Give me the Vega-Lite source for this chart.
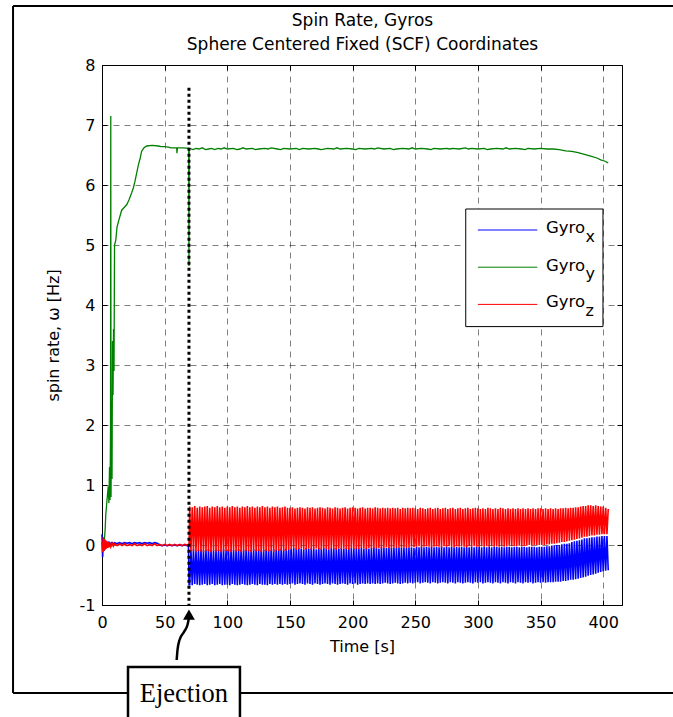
{
"$schema":"https://vega.github.io/schema/vega-lite/v6.json",
"width":520,"height":540,
"autosize":{"type":"none"},
"padding":{"left":102,"top":65,"right":51,"bottom":112},
"background":"white",
"datasets":{
"xz":[
{"t":0,"x":0.18,"z":0.05},{"t":0.5,"x":-0.2,"z":-0.12},{"t":1,"x":0.12,"z":0.13},{"t":1.5,"x":-0.1,"z":-0.1},{"t":2,"x":0.07,"z":0.1},{"t":2.5,"x":-0.05,"z":-0.08},{"t":3,"x":0.05,"z":0.08},{"t":3.5,"x":-0.02,"z":-0.06},{"t":4,"x":0.05,"z":0.06},{"t":4.5,"x":0.01,"z":-0.05},{"t":5,"x":0.04,"z":0.05},{"t":5.5,"x":0.02,"z":-0.04},{"t":6,"x":0.04,"z":0.04},{"t":7,"x":0.02,"z":-0.03},{"t":8,"x":0.04,"z":0.03},{"t":9,"x":0.02,"z":-0.02},{"t":10,"x":0.04,"z":0.02},{"t":12,"x":0.02,"z":-0.01},{"t":14,"x":0.04,"z":0.02},{"t":16,"x":0.02,"z":-0.01},{"t":18,"x":0.04,"z":0.02},{"t":20,"x":0.03,"z":-0.01},{"t":22,"x":0.04,"z":0.01},{"t":24,"x":0.02,"z":-0.01},{"t":26,"x":0.04,"z":0.02},{"t":28,"x":0.03,"z":-0.01},{"t":30,"x":0.04,"z":0.01},{"t":32,"x":0.02,"z":-0.01},{"t":34,"x":0.04,"z":0.02},{"t":36,"x":0.03,"z":-0.01},{"t":38,"x":0.04,"z":0.01},{"t":40,"x":0.02,"z":-0.01},{"t":42,"x":0.04,"z":0.02},{"t":44,"x":0.03,"z":-0.01},{"t":46,"x":0.0,"z":0.01},{"t":48,"x":-0.01,"z":-0.01},{"t":50,"x":0.0,"z":0.01},{"t":52,"x":-0.01,"z":-0.01},{"t":54,"x":0.0,"z":0.01},{"t":56,"x":-0.01,"z":-0.01},{"t":58,"x":0.0,"z":0.01},{"t":60,"x":-0.01,"z":-0.01},{"t":62,"x":0.0,"z":0.01},{"t":64,"x":-0.01,"z":-0.01},{"t":66,"x":0.0,"z":0.01},{"t":68,"x":-0.01,"z":0.0},{"t":69,"x":0.0,"z":0.0},{"t":69.5,"x":-0.66,"z":0.0},
{"t":70,"x":-0.66,"z":0.64},{"t":71,"x":-0.08,"z":-0.11},{"t":72,"x":-0.67,"z":0.63},{"t":73,"x":-0.07,"z":-0.10},{"t":74,"x":-0.65,"z":0.65},{"t":75,"x":-0.09,"z":-0.12},{"t":76,"x":-0.66,"z":0.62},{"t":77,"x":-0.08,"z":-0.10},{"t":78,"x":-0.67,"z":0.64},{"t":79,"x":-0.07,"z":-0.11},
{"t":80,"x":-0.66,"z":0.63},{"t":81,"x":-0.09,"z":-0.12},{"t":82,"x":-0.65,"z":0.64},{"t":83,"x":-0.08,"z":-0.10},{"t":84,"x":-0.67,"z":0.65},{"t":85,"x":-0.07,"z":-0.11},{"t":86,"x":-0.66,"z":0.62},{"t":87,"x":-0.08,"z":-0.12},{"t":88,"x":-0.65,"z":0.64},{"t":89,"x":-0.09,"z":-0.10},
{"t":90,"x":-0.67,"z":0.63},{"t":91,"x":-0.07,"z":-0.11},{"t":92,"x":-0.66,"z":0.65},{"t":93,"x":-0.08,"z":-0.10},{"t":94,"x":-0.65,"z":0.63},{"t":95,"x":-0.08,"z":-0.12},{"t":96,"x":-0.67,"z":0.64},{"t":97,"x":-0.07,"z":-0.11},{"t":98,"x":-0.66,"z":0.62},{"t":99,"x":-0.09,"z":-0.10},
{"t":100,"x":-0.66,"z":0.64},{"t":101,"x":-0.08,"z":-0.11},{"t":102,"x":-0.67,"z":0.63},{"t":103,"x":-0.07,"z":-0.12},{"t":104,"x":-0.65,"z":0.65},{"t":105,"x":-0.08,"z":-0.10},{"t":106,"x":-0.66,"z":0.63},{"t":107,"x":-0.09,"z":-0.11},{"t":108,"x":-0.67,"z":0.64},{"t":109,"x":-0.07,"z":-0.10},
{"t":110,"x":-0.66,"z":0.62},{"t":111,"x":-0.08,"z":-0.12},{"t":112,"x":-0.65,"z":0.64},{"t":113,"x":-0.08,"z":-0.11},{"t":114,"x":-0.66,"z":0.63},{"t":115,"x":-0.07,"z":-0.10},{"t":116,"x":-0.67,"z":0.65},{"t":117,"x":-0.09,"z":-0.11},{"t":118,"x":-0.66,"z":0.63},{"t":119,"x":-0.08,"z":-0.12},
{"t":120,"x":-0.65,"z":0.64},{"t":121,"x":-0.07,"z":-0.10},{"t":122,"x":-0.66,"z":0.62},{"t":123,"x":-0.08,"z":-0.11},{"t":124,"x":-0.67,"z":0.64},{"t":125,"x":-0.07,"z":-0.10},{"t":126,"x":-0.65,"z":0.63},{"t":127,"x":-0.09,"z":-0.12},{"t":128,"x":-0.66,"z":0.65},{"t":129,"x":-0.08,"z":-0.11},
{"t":130,"x":-0.66,"z":0.63},{"t":131,"x":-0.07,"z":-0.10},{"t":132,"x":-0.67,"z":0.64},{"t":133,"x":-0.08,"z":-0.11},{"t":134,"x":-0.65,"z":0.62},{"t":135,"x":-0.08,"z":-0.10},{"t":136,"x":-0.66,"z":0.64},{"t":137,"x":-0.07,"z":-0.12},{"t":138,"x":-0.65,"z":0.63},{"t":139,"x":-0.08,"z":-0.09},
{"t":140,"x":-0.66,"z":0.64},{"t":141,"x":-0.07,"z":-0.10},{"t":142,"x":-0.65,"z":0.62},{"t":143,"x":-0.06,"z":-0.09},{"t":144,"x":-0.66,"z":0.63},{"t":145,"x":-0.07,"z":-0.10},{"t":146,"x":-0.65,"z":0.64},{"t":147,"x":-0.06,"z":-0.09},{"t":148,"x":-0.66,"z":0.62},{"t":149,"x":-0.07,"z":-0.08},
{"t":150,"x":-0.65,"z":0.62},{"t":151,"x":-0.06,"z":-0.07},{"t":152,"x":-0.64,"z":0.63},{"t":153,"x":-0.05,"z":-0.06},{"t":154,"x":-0.66,"z":0.61},{"t":155,"x":-0.06,"z":-0.08},{"t":156,"x":-0.65,"z":0.62},{"t":157,"x":-0.05,"z":-0.07},{"t":158,"x":-0.64,"z":0.63},{"t":159,"x":-0.06,"z":-0.06},
{"t":160,"x":-0.65,"z":0.62},{"t":161,"x":-0.07,"z":-0.08},{"t":162,"x":-0.66,"z":0.61},{"t":163,"x":-0.05,"z":-0.07},{"t":164,"x":-0.64,"z":0.63},{"t":165,"x":-0.06,"z":-0.06},{"t":166,"x":-0.65,"z":0.62},{"t":167,"x":-0.05,"z":-0.08},{"t":168,"x":-0.66,"z":0.63},{"t":169,"x":-0.06,"z":-0.07},
{"t":170,"x":-0.64,"z":0.61},{"t":171,"x":-0.07,"z":-0.06},{"t":172,"x":-0.65,"z":0.62},{"t":173,"x":-0.05,"z":-0.07},{"t":174,"x":-0.66,"z":0.63},{"t":175,"x":-0.06,"z":-0.08},{"t":176,"x":-0.65,"z":0.62},{"t":177,"x":-0.05,"z":-0.06},{"t":178,"x":-0.64,"z":0.61},{"t":179,"x":-0.06,"z":-0.07},
{"t":180,"x":-0.65,"z":0.63},{"t":181,"x":-0.07,"z":-0.08},{"t":182,"x":-0.66,"z":0.62},{"t":183,"x":-0.05,"z":-0.06},{"t":184,"x":-0.64,"z":0.61},{"t":185,"x":-0.06,"z":-0.07},{"t":186,"x":-0.65,"z":0.63},{"t":187,"x":-0.05,"z":-0.08},{"t":188,"x":-0.66,"z":0.62},{"t":189,"x":-0.06,"z":-0.06},
{"t":190,"x":-0.65,"z":0.61},{"t":191,"x":-0.05,"z":-0.07},{"t":192,"x":-0.64,"z":0.62},{"t":193,"x":-0.06,"z":-0.06},{"t":194,"x":-0.65,"z":0.63},{"t":195,"x":-0.05,"z":-0.07},{"t":196,"x":-0.66,"z":0.61},{"t":197,"x":-0.06,"z":-0.08},{"t":198,"x":-0.64,"z":0.62},{"t":199,"x":-0.05,"z":-0.06},
{"t":200,"x":-0.65,"z":0.63},{"t":201,"x":-0.06,"z":-0.07},{"t":202,"x":-0.64,"z":0.62},{"t":203,"x":-0.05,"z":-0.06},{"t":204,"x":-0.66,"z":0.61},{"t":205,"x":-0.06,"z":-0.07},{"t":206,"x":-0.65,"z":0.62},{"t":207,"x":-0.05,"z":-0.05},{"t":208,"x":-0.64,"z":0.63},{"t":209,"x":-0.06,"z":-0.06},
{"t":210,"x":-0.65,"z":0.61},{"t":211,"x":-0.05,"z":-0.07},{"t":212,"x":-0.64,"z":0.62},{"t":213,"x":-0.06,"z":-0.05},{"t":214,"x":-0.65,"z":0.62},{"t":215,"x":-0.05,"z":-0.06},{"t":216,"x":-0.64,"z":0.61},{"t":217,"x":-0.04,"z":-0.05},{"t":218,"x":-0.65,"z":0.63},{"t":219,"x":-0.05,"z":-0.06},
{"t":220,"x":-0.64,"z":0.62},{"t":221,"x":-0.06,"z":-0.05},{"t":222,"x":-0.65,"z":0.61},{"t":223,"x":-0.04,"z":-0.06},{"t":224,"x":-0.64,"z":0.62},{"t":225,"x":-0.05,"z":-0.05},{"t":226,"x":-0.63,"z":0.61},{"t":227,"x":-0.05,"z":-0.04},{"t":228,"x":-0.64,"z":0.62},{"t":229,"x":-0.04,"z":-0.05},
{"t":230,"x":-0.65,"z":0.61},{"t":231,"x":-0.05,"z":-0.06},{"t":232,"x":-0.64,"z":0.62},{"t":233,"x":-0.04,"z":-0.04},{"t":234,"x":-0.63,"z":0.61},{"t":235,"x":-0.05,"z":-0.05},{"t":236,"x":-0.64,"z":0.62},{"t":237,"x":-0.04,"z":-0.04},{"t":238,"x":-0.65,"z":0.6},{"t":239,"x":-0.05,"z":-0.05},
{"t":240,"x":-0.64,"z":0.62},{"t":241,"x":-0.04,"z":-0.04},{"t":242,"x":-0.63,"z":0.61},{"t":243,"x":-0.05,"z":-0.05},{"t":244,"x":-0.64,"z":0.62},{"t":245,"x":-0.04,"z":-0.04},{"t":246,"x":-0.63,"z":0.61},{"t":247,"x":-0.04,"z":-0.03},{"t":248,"x":-0.64,"z":0.62},{"t":249,"x":-0.05,"z":-0.04},
{"t":250,"x":-0.63,"z":0.61},{"t":251,"x":-0.03,"z":-0.03},{"t":252,"x":-0.62,"z":0.6},{"t":253,"x":-0.04,"z":-0.02},{"t":254,"x":-0.64,"z":0.62},{"t":255,"x":-0.03,"z":-0.04},{"t":256,"x":-0.63,"z":0.61},{"t":257,"x":-0.04,"z":-0.03},{"t":258,"x":-0.62,"z":0.6},{"t":259,"x":-0.03,"z":-0.02},
{"t":260,"x":-0.63,"z":0.61},{"t":261,"x":-0.04,"z":-0.03},{"t":262,"x":-0.64,"z":0.62},{"t":263,"x":-0.03,"z":-0.04},{"t":264,"x":-0.62,"z":0.6},{"t":265,"x":-0.04,"z":-0.03},{"t":266,"x":-0.63,"z":0.61},{"t":267,"x":-0.03,"z":-0.02},{"t":268,"x":-0.64,"z":0.62},{"t":269,"x":-0.04,"z":-0.03},
{"t":270,"x":-0.63,"z":0.6},{"t":271,"x":-0.03,"z":-0.04},{"t":272,"x":-0.62,"z":0.61},{"t":273,"x":-0.04,"z":-0.02},{"t":274,"x":-0.63,"z":0.62},{"t":275,"x":-0.03,"z":-0.03},{"t":276,"x":-0.64,"z":0.6},{"t":277,"x":-0.04,"z":-0.02},{"t":278,"x":-0.62,"z":0.61},{"t":279,"x":-0.03,"z":-0.03},
{"t":280,"x":-0.63,"z":0.62},{"t":281,"x":-0.04,"z":-0.04},{"t":282,"x":-0.64,"z":0.6},{"t":283,"x":-0.03,"z":-0.02},{"t":284,"x":-0.62,"z":0.61},{"t":285,"x":-0.04,"z":-0.03},{"t":286,"x":-0.63,"z":0.62},{"t":287,"x":-0.03,"z":-0.02},{"t":288,"x":-0.64,"z":0.6},{"t":289,"x":-0.04,"z":-0.03},
{"t":290,"x":-0.63,"z":0.61},{"t":291,"x":-0.03,"z":-0.04},{"t":292,"x":-0.62,"z":0.62},{"t":293,"x":-0.04,"z":-0.02},{"t":294,"x":-0.63,"z":0.6},{"t":295,"x":-0.03,"z":-0.03},{"t":296,"x":-0.64,"z":0.61},{"t":297,"x":-0.04,"z":-0.02},{"t":298,"x":-0.62,"z":0.62},{"t":299,"x":-0.03,"z":-0.03},
{"t":300,"x":-0.63,"z":0.61},{"t":301,"x":-0.03,"z":-0.03},{"t":302,"x":-0.62,"z":0.6},{"t":303,"x":-0.04,"z":-0.02},{"t":304,"x":-0.64,"z":0.61},{"t":305,"x":-0.03,"z":-0.03},{"t":306,"x":-0.63,"z":0.6},{"t":307,"x":-0.04,"z":-0.02},{"t":308,"x":-0.62,"z":0.62},{"t":309,"x":-0.03,"z":-0.03},
{"t":310,"x":-0.63,"z":0.61},{"t":311,"x":-0.04,"z":-0.02},{"t":312,"x":-0.64,"z":0.6},{"t":313,"x":-0.03,"z":-0.03},{"t":314,"x":-0.62,"z":0.61},{"t":315,"x":-0.03,"z":-0.02},{"t":316,"x":-0.63,"z":0.6},{"t":317,"x":-0.04,"z":-0.03},{"t":318,"x":-0.64,"z":0.62},{"t":319,"x":-0.03,"z":-0.02},
{"t":320,"x":-0.62,"z":0.61},{"t":321,"x":-0.04,"z":-0.03},{"t":322,"x":-0.63,"z":0.6},{"t":323,"x":-0.03,"z":-0.02},{"t":324,"x":-0.64,"z":0.61},{"t":325,"x":-0.03,"z":-0.01},{"t":326,"x":-0.62,"z":0.6},{"t":327,"x":-0.04,"z":-0.02},{"t":328,"x":-0.63,"z":0.61},{"t":329,"x":-0.03,"z":-0.01},
{"t":330,"x":-0.64,"z":0.6},{"t":331,"x":-0.03,"z":-0.02},{"t":332,"x":-0.62,"z":0.61},{"t":333,"x":-0.04,"z":-0.01},{"t":334,"x":-0.63,"z":0.6},{"t":335,"x":-0.03,"z":-0.02},{"t":336,"x":-0.64,"z":0.61},{"t":337,"x":-0.03,"z":-0.01},{"t":338,"x":-0.62,"z":0.6},{"t":339,"x":-0.04,"z":-0.01},
{"t":340,"x":-0.63,"z":0.61},{"t":341,"x":-0.03,"z":0.0},{"t":342,"x":-0.62,"z":0.6},{"t":343,"x":-0.03,"z":-0.01},{"t":344,"x":-0.64,"z":0.61},{"t":345,"x":-0.03,"z":0.0},{"t":346,"x":-0.63,"z":0.6},{"t":347,"x":-0.04,"z":0.0},{"t":348,"x":-0.62,"z":0.61},{"t":349,"x":-0.03,"z":0.0},
{"t":350,"x":-0.63,"z":0.61},{"t":351,"x":-0.03,"z":0.0},{"t":352,"x":-0.62,"z":0.6},{"t":353,"x":-0.03,"z":0.0},{"t":354,"x":-0.63,"z":0.61},{"t":355,"x":-0.02,"z":0.01},{"t":356,"x":-0.62,"z":0.6},{"t":357,"x":-0.02,"z":0.01},{"t":358,"x":-0.62,"z":0.61},{"t":359,"x":-0.01,"z":0.02},
{"t":360,"x":-0.62,"z":0.6},{"t":361,"x":-0.01,"z":0.02},{"t":362,"x":-0.61,"z":0.61},{"t":363,"x":0.0,"z":0.03},{"t":364,"x":-0.61,"z":0.6},{"t":365,"x":0.0,"z":0.04},{"t":366,"x":-0.61,"z":0.61},{"t":367,"x":0.01,"z":0.05},{"t":368,"x":-0.6,"z":0.61},{"t":369,"x":0.02,"z":0.05},
{"t":370,"x":-0.6,"z":0.62},{"t":371,"x":0.02,"z":0.06},{"t":372,"x":-0.59,"z":0.61},{"t":373,"x":0.03,"z":0.07},{"t":374,"x":-0.58,"z":0.62},{"t":375,"x":0.05,"z":0.08},{"t":376,"x":-0.58,"z":0.62},{"t":377,"x":0.06,"z":0.09},{"t":378,"x":-0.57,"z":0.63},{"t":379,"x":0.07,"z":0.1},
{"t":380,"x":-0.56,"z":0.63},{"t":381,"x":0.08,"z":0.11},{"t":382,"x":-0.55,"z":0.64},{"t":383,"x":0.09,"z":0.12},{"t":384,"x":-0.54,"z":0.65},{"t":385,"x":0.11,"z":0.14},{"t":386,"x":-0.53,"z":0.65},{"t":387,"x":0.11,"z":0.14},{"t":388,"x":-0.51,"z":0.66},{"t":389,"x":0.12,"z":0.15},
{"t":390,"x":-0.5,"z":0.66},{"t":391,"x":0.13,"z":0.16},{"t":392,"x":-0.49,"z":0.65},{"t":393,"x":0.13,"z":0.16},{"t":394,"x":-0.48,"z":0.66},{"t":395,"x":0.14,"z":0.17},{"t":396,"x":-0.46,"z":0.65},{"t":397,"x":0.14,"z":0.17},{"t":398,"x":-0.45,"z":0.64},{"t":399,"x":0.15,"z":0.18},
{"t":400,"x":-0.44,"z":0.64},{"t":401,"x":0.15,"z":0.18},{"t":402,"x":-0.43,"z":0.62},{"t":403,"x":0.15,"z":0.18},{"t":404,"x":-0.42,"z":0.6}
],
"gy":[
{"t":0,"v":0.0},{"t":1,"v":0.02},{"t":2,"v":0.12},{"t":2.5,"v":0.25},{"t":3,"v":0.5},{"t":4,"v":0.75},{"t":5,"v":0.98},{"t":5.5,"v":0.7},{"t":6,"v":1.3},{"t":6.4,"v":0.75},{"t":6.8,"v":1.9},{"t":7.0,"v":7.15},{"t":7.2,"v":0.8},{"t":7.6,"v":2.4},{"t":8.0,"v":1.1},{"t":8.4,"v":3.4},{"t":8.8,"v":2.5},{"t":9.2,"v":3.6},{"t":9.6,"v":2.9},{"t":10,"v":5.0},{"t":11,"v":5.08},{"t":12,"v":5.3},{"t":13.5,"v":5.42},{"t":15.7,"v":5.58},{"t":17.5,"v":5.62},{"t":19.7,"v":5.67},{"t":21.5,"v":5.75},{"t":23.7,"v":5.87},{"t":25,"v":5.95},{"t":26.3,"v":6.06},{"t":27.5,"v":6.18},{"t":29,"v":6.33},{"t":30.5,"v":6.45},{"t":31.6,"v":6.56},{"t":33.5,"v":6.62},{"t":35.6,"v":6.65},{"t":40,"v":6.66},{"t":45,"v":6.65},{"t":47,"v":6.64},{"t":50,"v":6.64},{"t":53,"v":6.63},{"t":55,"v":6.62},{"t":59.6,"v":6.62},{"t":59.8,"v":6.53},{"t":60.2,"v":6.62},{"t":65,"v":6.62},{"t":69.2,"v":6.61},{"t":69.4,"v":4.65},{"t":69.6,"v":6.6},
{"t":70,"v":6.61},{"t":72.5,"v":6.59},{"t":75,"v":6.61},{"t":77.5,"v":6.6},{"t":80,"v":6.62},{"t":82.5,"v":6.59},{"t":85,"v":6.6},{"t":87.5,"v":6.61},{"t":90,"v":6.59},{"t":92.5,"v":6.61},{"t":95,"v":6.6},{"t":97.5,"v":6.62},{"t":100,"v":6.6},{"t":105,"v":6.61},{"t":107.5,"v":6.59},{"t":110,"v":6.6},{"t":112.5,"v":6.62},{"t":115,"v":6.6},{"t":120,"v":6.61},{"t":122.5,"v":6.59},{"t":125,"v":6.6},{"t":130,"v":6.61},{"t":132.5,"v":6.6},{"t":135,"v":6.62},{"t":140,"v":6.6},{"t":142.5,"v":6.59},{"t":145,"v":6.61},{"t":150,"v":6.6},{"t":155,"v":6.61},{"t":157.5,"v":6.59},{"t":160,"v":6.61},{"t":165,"v":6.6},{"t":170,"v":6.61},{"t":172.5,"v":6.6},{"t":175,"v":6.59},{"t":180,"v":6.61},{"t":185,"v":6.6},{"t":187.5,"v":6.62},{"t":190,"v":6.6},{"t":195,"v":6.61},{"t":200,"v":6.6},{"t":202.5,"v":6.59},{"t":205,"v":6.61},{"t":210,"v":6.6},{"t":215,"v":6.61},{"t":217.5,"v":6.6},{"t":220,"v":6.62},{"t":225,"v":6.6},{"t":230,"v":6.61},{"t":232.5,"v":6.59},{"t":235,"v":6.6},{"t":240,"v":6.61},{"t":245,"v":6.6},{"t":247.5,"v":6.62},{"t":250,"v":6.6},{"t":255,"v":6.61},{"t":260,"v":6.6},{"t":262.5,"v":6.59},{"t":265,"v":6.61},{"t":270,"v":6.6},{"t":275,"v":6.61},{"t":277.5,"v":6.6},{"t":280,"v":6.61},{"t":285,"v":6.6},{"t":290,"v":6.62},{"t":292.5,"v":6.6},{"t":295,"v":6.61},{"t":300,"v":6.6},{"t":305,"v":6.61},{"t":307.5,"v":6.59},{"t":310,"v":6.6},{"t":315,"v":6.61},{"t":320,"v":6.6},{"t":322.5,"v":6.62},{"t":325,"v":6.6},{"t":330,"v":6.61},{"t":335,"v":6.6},{"t":337.5,"v":6.59},{"t":340,"v":6.61},{"t":345,"v":6.6},{"t":350,"v":6.61},{"t":355,"v":6.6},{"t":360,"v":6.6},{"t":365,"v":6.59},{"t":370,"v":6.57},{"t":375,"v":6.56},{"t":380,"v":6.54},{"t":385,"v":6.51},{"t":390,"v":6.48},{"t":395,"v":6.45},{"t":398,"v":6.42},{"t":401,"v":6.4},{"t":404,"v":6.37}
],
"arrow":[
{"t":59.6,"v":-1.917},{"t":60.25,"v":-1.75},{"t":61.85,"v":-1.583},{"t":65.4,"v":-1.45},{"t":68.2,"v":-1.333},{"t":69.4,"v":-1.217}
]
},
"layer":[
{"data":{"name":"xz"},"mark":{"type":"line","color":"#0000ff","strokeWidth":1.6},
 "encoding":{
  "x":{"field":"t","type":"quantitative","scale":{"domain":[0,415],"nice":false,"zero":false},
       "axis":{"orient":"bottom","values":[0,50,100,150,200,250,300,350,400],"title":"Time [s]","grid":true,"tickSize":-5,"labelPadding":14,"titlePadding":8}},
  "y":{"field":"x","type":"quantitative","scale":{"domain":[-1,8],"nice":false,"zero":false},
       "axis":{"orient":"left","values":[-1,0,1,2,3,4,5,6,7,8],"title":"spin rate, ω [Hz]","grid":true,"tickSize":-5,"labelPadding":12,"titlePadding":18,"labelExpr":"'' + datum.value"}}}},
{"data":{"name":"gy"},"mark":{"type":"line","color":"#008000","strokeWidth":1.3},
 "encoding":{"x":{"field":"t","type":"quantitative","axis":null},"y":{"field":"v","type":"quantitative","axis":null}}},
{"data":{"name":"xz"},"mark":{"type":"line","color":"#ff0000","strokeWidth":1.6},
 "encoding":{
  "x":{"field":"t","type":"quantitative","axis":{"orient":"top","values":[0,50,100,150,200,250,300,350,400],"labels":false,"grid":false,"tickSize":-5,
       "title":["Spin Rate, Gyros","Sphere Centered Fixed (SCF) Coordinates"],"titleFontSize":17,"titleLineHeight":24,"titlePadding":11}},
  "y":{"field":"z","type":"quantitative","axis":{"orient":"right","values":[-1,0,1,2,3,4,5,6,7,8],"labels":false,"grid":false,"title":null,"tickSize":-5}}}},
{"data":{"values":[{}]},"mark":{"type":"rule","color":"black","strokeWidth":3,"strokeDash":[3,3]},
 "encoding":{"x":{"datum":69.4,"axis":null},"y":{"datum":7.62,"axis":null},"y2":{"datum":-1}}},
{"data":{"values":[{}]},"mark":{"type":"rect","fill":"white","stroke":"black","strokeWidth":1},
 "encoding":{"x":{"datum":290.3,"axis":null},"x2":{"datum":399.8},"y":{"datum":5.6,"axis":null},"y2":{"datum":3.64}}},
{"data":{"values":[{}]},"mark":{"type":"rule","color":"#0000ff","strokeWidth":1},
 "encoding":{"x":{"datum":300,"axis":null},"x2":{"datum":347.4},"y":{"datum":5.25,"axis":null}}},
{"data":{"values":[{}]},"mark":{"type":"rule","color":"#008000","strokeWidth":1},
 "encoding":{"x":{"datum":300,"axis":null},"x2":{"datum":347.4},"y":{"datum":4.63,"axis":null}}},
{"data":{"values":[{}]},"mark":{"type":"rule","color":"#ff0000","strokeWidth":1},
 "encoding":{"x":{"datum":300,"axis":null},"x2":{"datum":347.4},"y":{"datum":4.01,"axis":null}}},
{"data":{"values":[{}]},"mark":{"type":"text","align":"left","baseline":"alphabetic","font":"DejaVu Sans","fontSize":16.5,"color":"black","text":"Gyro"},
 "encoding":{"x":{"datum":354.3,"axis":null},"y":{"datum":5.195,"axis":null}}},
{"data":{"values":[{}]},"mark":{"type":"text","align":"left","baseline":"alphabetic","font":"DejaVu Sans","fontSize":16.5,"color":"black","text":"Gyro"},
 "encoding":{"x":{"datum":354.3,"axis":null},"y":{"datum":4.57,"axis":null}}},
{"data":{"values":[{}]},"mark":{"type":"text","align":"left","baseline":"alphabetic","font":"DejaVu Sans","fontSize":16.5,"color":"black","text":"Gyro"},
 "encoding":{"x":{"datum":354.3,"axis":null},"y":{"datum":3.96,"axis":null}}},
{"data":{"values":[{}]},"mark":{"type":"text","align":"left","baseline":"alphabetic","font":"DejaVu Sans","fontSize":16,"color":"black","text":"x"},
 "encoding":{"x":{"datum":385.8,"axis":null},"y":{"datum":5.055,"axis":null}}},
{"data":{"values":[{}]},"mark":{"type":"text","align":"left","baseline":"alphabetic","font":"DejaVu Sans","fontSize":16,"color":"black","text":"y"},
 "encoding":{"x":{"datum":385.8,"axis":null},"y":{"datum":4.43,"axis":null}}},
{"data":{"values":[{}]},"mark":{"type":"text","align":"left","baseline":"alphabetic","font":"DejaVu Sans","fontSize":16,"color":"black","text":"z"},
 "encoding":{"x":{"datum":385.8,"axis":null},"y":{"datum":3.82,"axis":null}}},
{"data":{"values":[{}]},"mark":{"type":"rule","color":"black","strokeWidth":2},
 "encoding":{"x":{"datum":-71,"axis":null},"y":{"datum":8.983,"axis":null},"y2":{"datum":-2.467}}},
{"data":{"values":[{}]},"mark":{"type":"rule","color":"black","strokeWidth":2},
 "encoding":{"x":{"datum":-71,"axis":null},"x2":{"datum":470},"y":{"datum":8.983,"axis":null}}},
{"data":{"values":[{}]},"mark":{"type":"rule","color":"black","strokeWidth":2},
 "encoding":{"x":{"datum":-71,"axis":null},"x2":{"datum":470},"y":{"datum":-2.467,"axis":null}}},
{"data":{"values":[{}]},"mark":{"type":"rect","fill":"white","stroke":"black","strokeWidth":2.5},
 "encoding":{"x":{"datum":20.75,"axis":null},"x2":{"datum":110.1},"y":{"datum":-2.033,"axis":null},"y2":{"datum":-3.3}}},
{"data":{"values":[{}]},"mark":{"type":"text","align":"center","baseline":"alphabetic","font":"Liberation Serif","fontSize":26.5,"color":"black","text":"Ejection"},
 "encoding":{"x":{"datum":65.4,"axis":null},"y":{"datum":-2.61,"axis":null}}},
{"data":{"name":"arrow"},"mark":{"type":"line","color":"black","strokeWidth":2.5,"interpolate":"monotone"},
 "encoding":{"x":{"field":"t","type":"quantitative","axis":null},"y":{"field":"v","type":"quantitative","axis":null}}},
{"data":{"values":[{}]},"mark":{"type":"point","shape":"triangle-up","filled":true,"color":"black","size":140,"opacity":1},
 "encoding":{"x":{"datum":69.4,"axis":null},"y":{"datum":-1.16,"axis":null}}}
],
"resolve":{"axis":{"x":"independent","y":"independent"}},
"config":{
 "view":{"stroke":"black","strokeWidth":1},
 "font":"DejaVu Sans",
 "axis":{"labelFont":"DejaVu Sans","labelFontSize":16,"labelColor":"black","titleFont":"DejaVu Sans","titleFontSize":16,"titleFontWeight":"normal","titleColor":"black","tickColor":"black","tickWidth":1,"domain":false,"gridColor":"black","gridWidth":0.5,"gridDash":[6,5],"gridOpacity":1,"labelFlush":false,"labelOverlap":false}
}
}
